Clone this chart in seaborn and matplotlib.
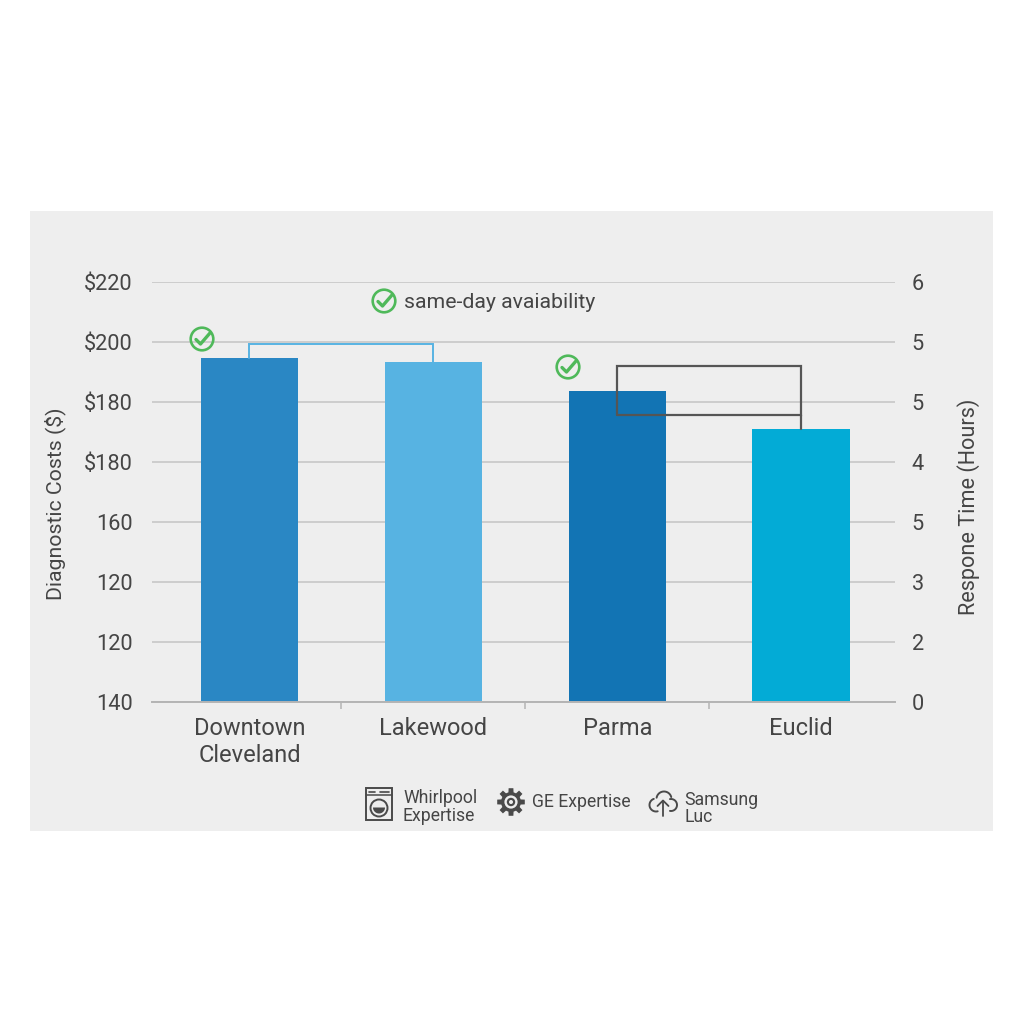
import numpy as np
import pandas as pd
import matplotlib
matplotlib.use('Agg')
import matplotlib.pyplot as plt
from matplotlib.patches import Circle, Rectangle, Polygon
import seaborn as sns

# values are in tick-slot units, the printed tick labels on the chart do not run evenly
areas = ['Downtown\nCleveland', 'Lakewood', 'Parma', 'Euclid']
bar_levels = [5.73, 5.67, 5.18, 4.55]
bar_colors = ['#2a87c4', '#57b3e2', '#1274b4', '#03abd6']
left_labels = ['140', '120', '120', '160', '$180', '$180', '$200', '$220']
right_labels = ['0', '2', '3', '5', '4', '5', '5', '6']
bracket_level = 5.97
box_top = 5.6
box_bottom = 4.78

TEXT = '#454545'
GREEN = '#4fb95a'
PANEL = '#eeeeee'

sns.set_theme(style='white')
plt.rcParams['font.family'] = ['Roboto', 'DejaVu Sans']

fig = plt.figure(figsize=(10.24, 10.24), dpi=100, facecolor='white')

# grey panel behind everything
bg = fig.add_axes([0, 0, 1, 1], zorder=0)
bg.set_xlim(0, 1024)
bg.set_ylim(1024, 0)
bg.axis('off')
bg.add_patch(Rectangle((30, 211), 963, 620, color=PANEL, lw=0))

ax = fig.add_axes([152 / 1024, 1 - 702 / 1024, 743 / 1024, 420 / 1024], zorder=1)
ax.patch.set_alpha(0)

df = pd.DataFrame({'area': areas, 'level': bar_levels})
sns.barplot(data=df, x='area', y='level', hue='area', palette=bar_colors,
            width=0.53, saturation=1, legend=False, ax=ax, zorder=2,
            edgecolor='none', linewidth=0)

ax.set_xlim(-0.53, 3.51)
ax.set_ylim(0, 7)
ax.set_yticks(range(8))
ax.set_yticklabels(left_labels, fontsize=15.7, color=TEXT)
ax.set_xticks(range(4))
ax.set_xticklabels(areas, fontsize=17, color=TEXT, linespacing=1.2)
ax.set_xticks([0.5, 1.5, 2.5], minor=True)
ax.tick_params(axis='x', which='major', length=0, pad=11)
ax.tick_params(axis='x', which='minor', length=5, width=1.1, color='#b4b4b4', bottom=True)
ax.tick_params(axis='y', length=0, pad=14)
ax.grid(axis='y', color='#cdcdcd', linewidth=1.4, zorder=0)
ax.set_axisbelow(True)
for side in ['top', 'left', 'right']:
    ax.spines[side].set_visible(False)
ax.spines['bottom'].set_color('#b4b4b4')
ax.spines['bottom'].set_linewidth(1.4)
ax.set_xlabel('')
ax.set_ylabel('')

# bracket between the first two bars, box and stem between the last two
ax.plot([0, 0, 1, 1], [bar_levels[0], bracket_level, bracket_level, bar_levels[1]],
        color='#57b3e2', lw=1.4, zorder=3, solid_joinstyle='miter')
ax.plot([2, 2, 3, 3, 2], [box_bottom, box_top, box_top, box_bottom, box_bottom],
        color='#555555', lw=1.6, zorder=3, solid_joinstyle='miter')
ax.plot([3, 3], [box_bottom, bar_levels[3]], color='#555555', lw=1.6, zorder=3)

ax2 = ax.twinx()
ax2.set_ylim(0, 7)
ax2.set_yticks(range(8))
ax2.set_yticklabels(right_labels, fontsize=15.7, color=TEXT)
ax2.tick_params(axis='y', length=0, pad=12)
for side in ['top', 'left', 'right', 'bottom']:
    ax2.spines[side].set_visible(False)
ax2.grid(False)

# overlay in pixel coordinates for the labels and the little icons
ov = fig.add_axes([0, 0, 1, 1], zorder=3)
ov.set_xlim(0, 1024)
ov.set_ylim(1024, 0)
ov.axis('off')
ov.patch.set_alpha(0)

ov.text(55, 504, 'Diagnostic Costs ($)', rotation=90, fontsize=15.3, color=TEXT,
        ha='center', va='center')
ov.text(969, 507, 'Respone Time (Hours)', rotation=90, fontsize=15.6, color=TEXT,
        ha='center', va='center')
ov.text(404, 302.5, 'same-day avaiability', fontsize=15.3, color=TEXT, va='center')


def check_icon(cx, cy):
    ov.add_patch(Circle((cx, cy), 11.3, fill=False, ec=GREEN, lw=1.9))
    ov.plot([cx - 6, cx - 1.5, cx + 8], [cy + 0.5, cy + 5, cy - 6],
            color=GREEN, lw=2.4, solid_capstyle='round', solid_joinstyle='round')


for c in [(202, 339), (384, 301), (568, 367)]:
    check_icon(*c)

# washer
ICON = '#4a4a4a'
ov.add_patch(Rectangle((366, 788), 26, 32, fill=False, ec=ICON, lw=1.4))
ov.plot([366, 392], [795, 795], color=ICON, lw=1.1)
ov.plot([369, 375], [791.5, 791.5], color=ICON, lw=1.2)
ov.plot([380, 389], [791.5, 791.5], color=ICON, lw=1.2)
ov.add_patch(Circle((379, 808), 8.5, fill=False, ec=ICON, lw=1.4))
theta = np.linspace(0, np.pi, 30)
ov.fill(379 + 6 * np.cos(theta), 807.5 + 6 * np.sin(theta), color=ICON, lw=0)

# gear
teeth = 8
gear_pts = []
for i in range(teeth):
    a = 2 * np.pi * i / teeth
    for da, r in [(-0.26, 10), (-0.17, 14), (0.17, 14), (0.26, 10)]:
        gear_pts.append((511 + r * np.cos(a + da), 802 + r * np.sin(a + da)))
ov.add_patch(Polygon(gear_pts, closed=True, color=ICON, lw=0))
ov.add_patch(Circle((511, 802), 6.6, color=PANEL, lw=0))
ov.add_patch(Circle((511, 802), 4.2, color=ICON, lw=0))
ov.add_patch(Circle((511, 802), 2.0, color=PANEL, lw=0))


# cloud
def arc(cx, cy, r, a0, a1):
    t = np.radians(np.linspace(a0, a1, 30))
    return cx + r * np.cos(t), cy + r * np.sin(t)


for args in [(656, 805, 6.5, 75, 250), (664, 799, 7.5, 190, 345), (671, 805, 6, -100, 100)]:
    xs, ys = arc(*args)
    ov.plot(xs, ys, color=ICON, lw=1.4)
ov.plot([663, 663], [801, 816], color=ICON, lw=1.3)
ov.plot([657.5, 663, 668.5], [806, 800.5, 806], color=ICON, lw=1.3)

legend_size = 12.7
ov.text(403, 798, 'Whirlpool', fontsize=legend_size, color=TEXT, va='center')
ov.text(403, 816, 'Expertise', fontsize=legend_size, color=TEXT, va='center')
ov.text(532, 802, 'GE Expertise', fontsize=legend_size, color=TEXT, va='center')
ov.text(684, 800, 'Samsung', fontsize=legend_size, color=TEXT, va='center')
ov.text(684, 817, 'Luc', fontsize=legend_size, color=TEXT, va='center')

fig.savefig('out.png', dpi=100)
